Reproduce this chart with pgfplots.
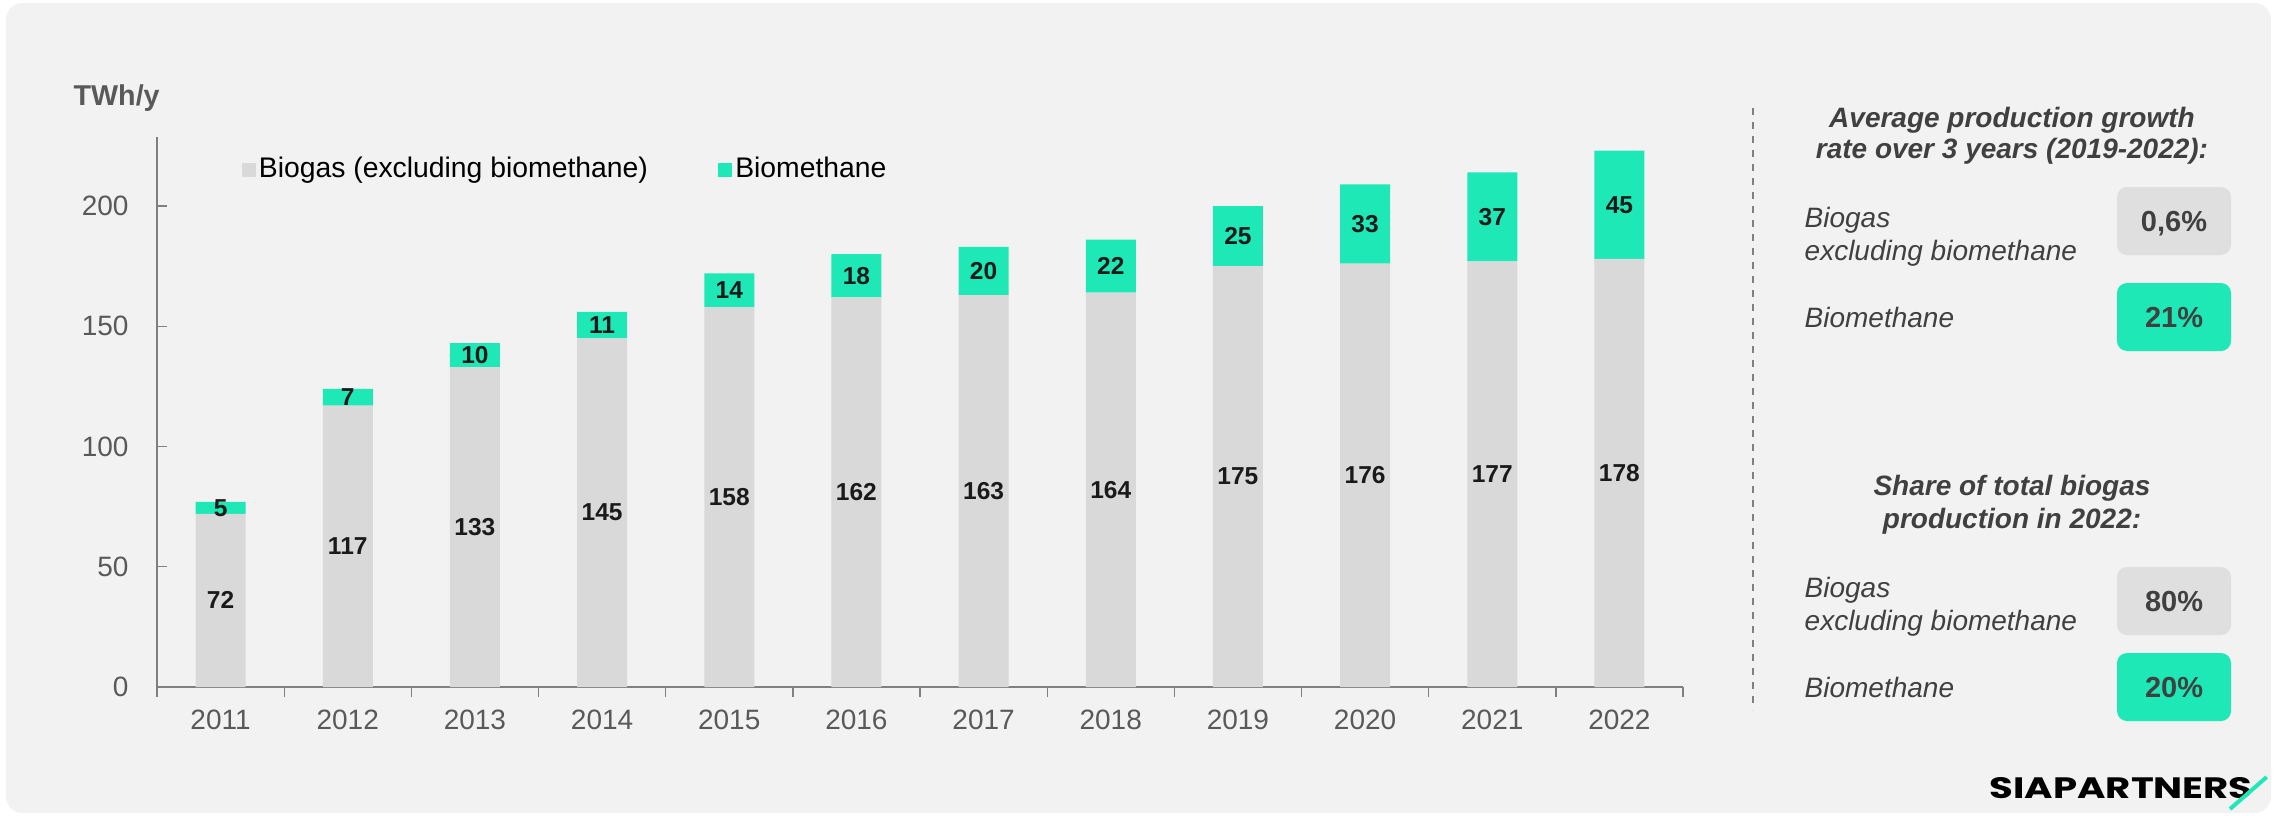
\documentclass[border=0pt]{standalone}
\usepackage{pgfplots}
\pgfplotsset{compat=1.18}
\usepackage{pgfplotstable}
\usepackage{fontspec}
\usepackage{graphicx}
\setmainfont{Liberation Sans}
\newfontfamily\logofont{Poppins}
\definecolor{bg}{HTML}{F2F2F2}
\definecolor{cgray}{HTML}{D9D9D9}
\definecolor{cgreen}{HTML}{1EE9B6}
\definecolor{boxgray}{HTML}{DFDFDF}
\definecolor{dark}{HTML}{404040}
\definecolor{tickgray}{HTML}{595959}
\definecolor{axisgray}{HTML}{808080}
\definecolor{lab}{HTML}{1A1A1A}
\newcommand\fa{\fontsize{8.4pt}{10pt}\selectfont}
\newcommand\fb{\fontsize{7.35pt}{9pt}\selectfont}
\newcommand\fc{\fontsize{8.7pt}{10pt}\selectfont}
\pgfplotstableread{
x gas bio
0 72 5
1 117 7
2 133 10
3 145 11
4 158 14
5 162 18
6 163 20
7 164 22
8 175 25
9 176 33
10 177 37
11 178 45
}\data
\begin{document}
\begin{tikzpicture}
\fill[white] (0,0) rectangle (682.5pt,244.5pt);
\fill[bg, rounded corners=5pt] (1.8pt,0.6pt) rectangle (681.3pt,243.6pt);
\begin{axis}[
  at={(47.1pt,38.4pt)}, anchor=south west,
  width=457.8pt, height=165pt, scale only axis,
  ybar stacked, bar width=15pt,
  xmin=-0.5, xmax=11.5, ymin=0, ymax=228.7,
  axis lines*=left,
  x axis line style={axisgray, line width=0.6pt},
  y axis line style={axisgray, line width=0.4pt},
  xtick={0,...,11},
  xticklabels={2011,2012,2013,2014,2015,2016,2017,2018,2019,2020,2021,2022},
  major x tick style={draw=none},
  minor xtick={-0.5,0.5,...,11.5},
  minor x tick style={axisgray, line width=0.4pt, yshift=-3pt},
  minor tick length=3pt,
  ytick={0,50,100,150,200},
  major tick length=3pt,
  ytick style={axisgray, line width=0.4pt},
  tick align=inside,
  ticklabel style={font=\fa, text=tickgray},
  yticklabel style={xshift=-5pt},
  xticklabel style={yshift=-3.4pt},
  /pgf/number format/assume math mode=true,
  nodes near coords,
  point meta=explicit symbolic,
  every node near coord/.append style={font=\fb\bfseries, text=lab, anchor=center},
  legend style={draw=none, fill=none, at={(0.055,0.94)}, anchor=west, legend columns=2, font=\fontsize{8.5pt}{10pt}\selectfont, text=black, inner sep=0pt, nodes={inner sep=1pt}, /tikz/every even column/.append style={column sep=20pt}},
  legend image code/.code={\fill[#1] (0pt,-2.1pt) rectangle (4.2pt,2.1pt);},
]
\addplot[fill=cgray, draw=none] table[x=x,y=gas,meta=gas]{\data};
\addlegendentry{Biogas (excluding biomethane)}
\addplot[fill=cgreen, draw=none] table[x=x,y=bio,meta=bio]{\data};
\addlegendentry{Biomethane}
\end{axis}
\node[anchor=base west, inner sep=0, font=\fontsize{8.6pt}{10pt}\selectfont\bfseries, text=tickgray] at (21.9pt,213pt) {TWh/y};
% right panel
\draw[axisgray, line width=0.5pt, dash pattern=on 2.1pt off 2.1pt] (525.9pt,212.1pt) -- (525.9pt,31.5pt);
\node[anchor=base, inner sep=0, font=\fa\bfseries\itshape, text=dark] at (603.6pt,206.4pt) {Average production growth};
\node[anchor=base, inner sep=0, font=\fa\bfseries\itshape, text=dark] at (603.6pt,197.1pt) {rate over 3 years (2019-2022):};
\node[anchor=base west, inner sep=0, font=\fa\itshape, text=dark] at (541.2pt,176.4pt) {Biogas};
\node[anchor=base west, inner sep=0, font=\fa\itshape, text=dark] at (541.2pt,166.5pt) {excluding biomethane};
\node[anchor=base west, inner sep=0, font=\fa\itshape, text=dark] at (541.2pt,146.4pt) {Biomethane};
\fill[boxgray, rounded corners=3pt] (635.1pt,168pt) rectangle (669.3pt,188.4pt);
\node[anchor=base, inner sep=0, font=\fc\bfseries, text=dark] at (652.2pt,175.1pt) {0,6\%};
\fill[cgreen, rounded corners=3pt] (635.1pt,139.2pt) rectangle (669.3pt,159.6pt);
\node[anchor=base, inner sep=0, font=\fc\bfseries, text=dark] at (652.2pt,146.3pt) {21\%};
\node[anchor=base, inner sep=0, font=\fa\bfseries\itshape, text=dark] at (603.6pt,96pt) {Share of total biogas};
\node[anchor=base, inner sep=0, font=\fa\bfseries\itshape, text=dark] at (603.6pt,86.1pt) {production in 2022:};
\node[anchor=base west, inner sep=0, font=\fa\itshape, text=dark] at (541.2pt,65.4pt) {Biogas};
\node[anchor=base west, inner sep=0, font=\fa\itshape, text=dark] at (541.2pt,55.5pt) {excluding biomethane};
\node[anchor=base west, inner sep=0, font=\fa\itshape, text=dark] at (541.2pt,35.4pt) {Biomethane};
\fill[boxgray, rounded corners=3pt] (635.1pt,54pt) rectangle (669.3pt,74.4pt);
\node[anchor=base, inner sep=0, font=\fc\bfseries, text=dark] at (652.2pt,61.1pt) {80\%};
\fill[cgreen, rounded corners=3pt] (635.1pt,28.2pt) rectangle (669.3pt,48.6pt);
\node[anchor=base, inner sep=0, font=\fc\bfseries, text=dark] at (652.2pt,35.3pt) {20\%};
% logo
\node[anchor=base west, inner sep=0] at (596.7pt,5.1pt) {\resizebox{78.9pt}{6.3pt}{\logofont\bfseries SIAPARTNERS}};
\draw[cgreen, line width=1.2pt] (669pt,1.8pt) -- (680pt,11.4pt);
\end{tikzpicture}
\end{document}
